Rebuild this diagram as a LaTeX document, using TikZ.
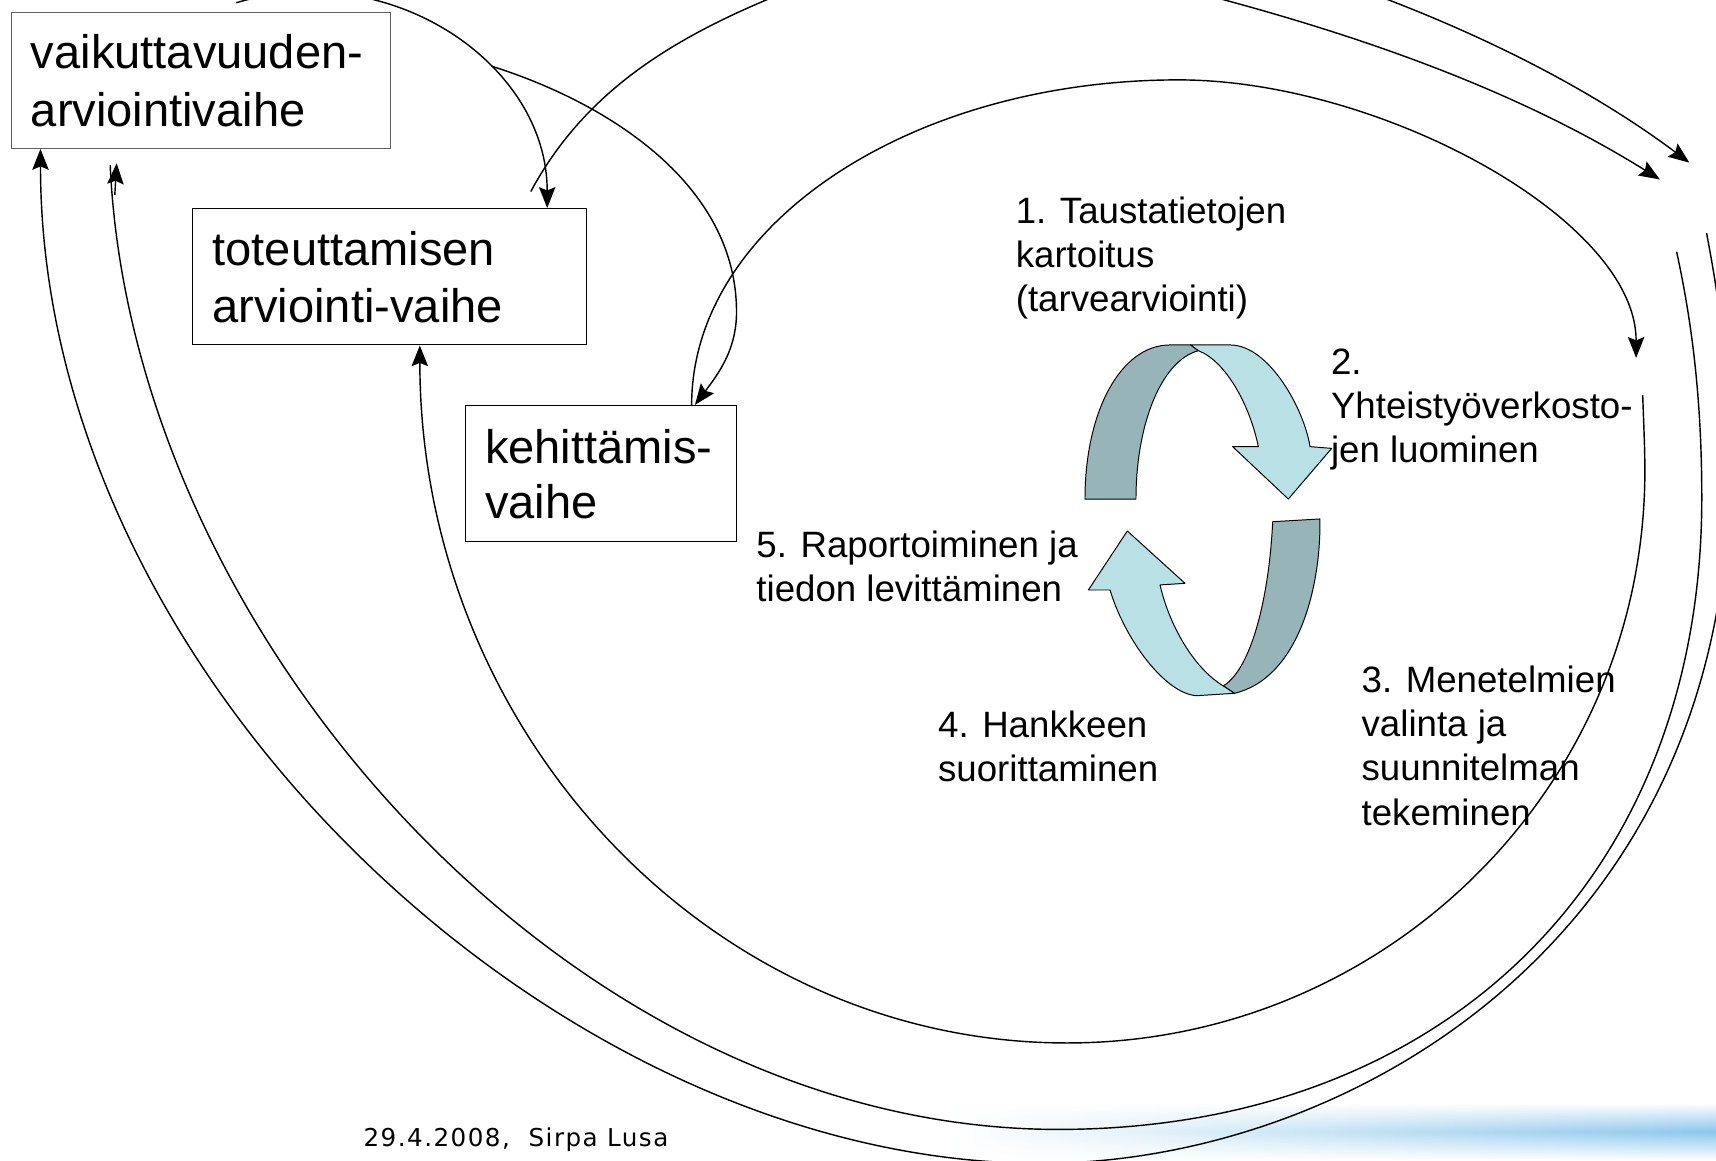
\documentclass[tikz,border=0pt]{standalone}
\usepackage{fontspec}
\setmainfont{Liberation Sans}
\newfontfamily\footfont[LetterSpace=6.0]{DejaVu Sans}
\usetikzlibrary{arrows.meta,calc,fadings}
\definecolor{darkband}{RGB}{151,180,184}
\definecolor{lightband}{RGB}{185,224,228}
\definecolor{bandblue}{RGB}{140,200,236}
\definecolor{boxgray}{RGB}{96,96,96}
\tikzfading[name=fadeud, top color=transparent!100, bottom color=transparent!100, middle color=transparent!0]
\begin{document}
\begin{tikzpicture}[x=1pt,y=-1pt,
  conn/.style={line width=1.3pt},
  arr/.style={conn, -{Stealth[length=19pt,width=15pt,inset=3pt]}},
  phasebox/.style={draw=black, line width=1.1pt, fill=white, inner sep=0pt, anchor=north west},
  boxtext/.style={font=\fontsize{43}{53}\selectfont, inner sep=0pt, anchor=base west},
  steptext/.style={font=\fontsize{33.5}{41}\selectfont, inner sep=0pt, anchor=base west},
  bandedge/.style={draw=black, line width=0.9pt, line join=round},
]
\useasboundingbox (0,0) rectangle (1568,1060);
\fill[white] (0,0) rectangle (1568,1060);
\clip (0,0) rectangle (1568,1060);

% footer band
\shade[left color=white, middle color=bandblue!50, right color=bandblue, path fading=fadeud] (870,1008) rectangle (1568,1060);

% phase boxes
\node[phasebox, draw=boxgray, minimum width=346pt, minimum height=124pt] (vaik) at (10,11) {};
\node[phasebox, minimum width=359.4pt, minimum height=124.5pt] (tot) at (175.6,190) {};
\node[phasebox, minimum width=248pt, minimum height=124.4pt] (keh) at (424.6,370) {};

\node[boxtext] (vaik1) at (28,63) {vaikuttavuuden-};
\node[boxtext] (vaik2) at (28,116) {arviointivaihe};
\node[boxtext] (tot1) at (194,243) {toteuttamisen};
\node[boxtext] (tot2) at (194,295) {arviointi-vaihe};
\node[boxtext] (keh1) at (443,423.5) {kehittämis-};
\node[boxtext] (keh2) at (443,474) {vaihe};

% step labels
\node[steptext] (s1a) at (928,204) {1. Taustatietojen};
\node[steptext] (s1b) at (928,244.5) {kartoitus};
\node[steptext] (s1c) at (928,285) {(tarvearviointi)};
\node[steptext] (s2a) at (1216,342) {2.};
\node[steptext] (s2b) at (1216,382.5) {Yhteistyöverkosto-};
\node[steptext] (s2c) at (1216,423) {jen luominen};
\node[steptext] (s3a) at (1244,632.5) {3. Menetelmien};
\node[steptext] (s3b) at (1244,673) {valinta ja};
\node[steptext] (s3c) at (1244,713.5) {suunnitelman};
\node[steptext] (s3d) at (1244,754) {tekeminen};
\node[steptext] (s4a) at (857,673.5) {4. Hankkeen};
\node[steptext] (s4b) at (857,714) {suorittaminen};
\node[steptext] (s5a) at (691,509.5) {5. Raportoiminen ja};
\node[steptext] (s5b) at (691,550) {tiedon levittäminen};

\node[anchor=base west, inner sep=0pt, font=\footfont\fontsize{22.5}{26}\selectfont] (foot) at (332,1047.5) {29.4.2008,\ \ Sirpa Lusa};

% free ends
\coordinate (c1s) at (216,2.5);
\coordinate (c5s) at (449,60.4);
\coordinate (c2s) at (485,175);
\coordinate (c2e) at (1516.7,164);
\coordinate (c3s) at (1000,-60);
\coordinate (c3e) at (1543.6,148.6);
\coordinate (c4e) at (1495,327);
\coordinate (u1s) at (1501,361);
\coordinate (u2s) at (1532,230);
\coordinate (u2e) at (100.7,151);
\coordinate (u2a) at (104.9,178);
\coordinate (u2b) at (106.6,149.2);
\coordinate (u3s) at (1559.4,213);

% arcs between the boxes and towards the cycle
\draw[arr] (c1s) .. controls (355.6,-39.6) and (500,58) .. ($(tot.north west)+(324.4,0)$);
\draw[arr] (c5s) .. controls (558.7,95) and (673,170) .. (673,285)
  .. controls (673,320) and (656,342) .. ($(keh.north west)+(210.4,0)$);
\draw[arr] ($(keh.north west)+(207.4,0)$) .. controls (632,206) and (831,73) .. (1077,73)
  .. controls (1260,73) and (1495,200) .. (c4e);
\draw[arr] (c2s) .. controls (532.5,87) and (608,39) .. (700,0)
  .. controls (838,-58.5) and (974.3,-39) .. (1119,0)
  .. controls (1259,37.8) and (1393.8,87.2) .. (c2e);
\draw[arr] (c3s) .. controls (1130,-60) and (1199,-27) .. (1269,0)
  .. controls (1367,37.7) and (1459.6,85.6) .. (c3e);

% return curves
\draw[arr] (u1s) .. controls (1502,390) and (1503,410) .. (1503,430)
  .. controls (1503,718.9) and (1266.6,953) .. (975,953)
  .. controls (649,953) and (384,669) .. ($(tot.south west)+(208,0)$);
\draw[conn] (u2s) .. controls (1545,290) and (1555,360) .. (1555,455)
  .. controls (1555,801) and (1320,1032) .. (967,1032)
  .. controls (520,1032) and (120,580) .. (u2e);
\draw[arr] (u2a) -- (u2b);
\draw[arr] (u3s) .. controls (1570,270) and (1580,330) .. (1580,430)
  .. controls (1580,860) and (1230,1063) .. (951,1063)
  .. controls (510,1063) and (37,619) .. ($(vaik.south west)+(27,0)$);

% cycle arrows
\filldraw[bandedge, fill=darkband] (991.4,456) .. controls (991.4,376) and (1024,315.2) .. (1069.1,315.2)
  -- (1088,315.2) -- (1095,320.4) .. controls (1060,330) and (1038,390) .. (1038,456) -- cycle;
\filldraw[bandedge, fill=lightband] (1088,315.2) -- (1124,315.2) .. controls (1160,315.2) and (1192,375) .. (1197,408.1)
  -- (1216.8,409.7) -- (1177.2,456) -- (1126.3,408.1) -- (1149.8,408.1)
  .. controls (1142,370) and (1120,330) .. (1095,320.4) -- cycle;
\filldraw[bandedge, fill=darkband] (1162.9,476.7) -- (1206.1,474.2) .. controls (1207,540) and (1185,620) .. (1128,633.5)
  -- (1117.8,626.8) .. controls (1145,610) and (1160,540) .. (1162.9,476.7) -- cycle;
\filldraw[bandedge, fill=lightband] (1014.3,539.1) -- (994.5,539.1) -- (1030.1,485.2) -- (1082.8,533) -- (1060,534.5)
  .. controls (1068,570) and (1090,610) .. (1117.8,626.8) -- (1128,633.5) -- (1093.4,635.7)
  .. controls (1065,634) and (1028,585) .. (1014.3,539.1) -- cycle;
\end{tikzpicture}
\end{document}
